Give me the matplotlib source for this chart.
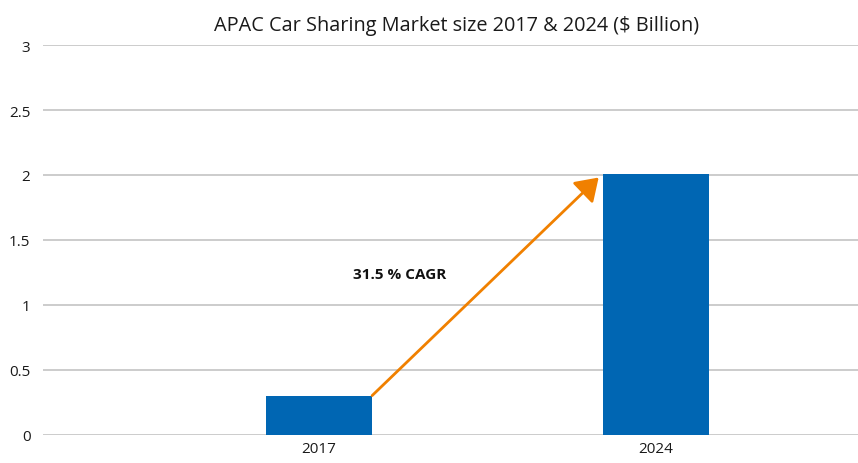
import matplotlib
matplotlib.use("Agg")
import matplotlib.pyplot as plt

years = ["2017", "2024"]
market_size = [0.30, 2.01]
cagr_label = "31.5 % CAGR"
y_ticks = [0, 0.5, 1, 1.5, 2, 2.5, 3]
y_tick_labels = ["0", "0.5", "1", "1.5", "2", "2.5", "3"]

plt.rcParams["font.family"] = ["Open Sans", "DejaVu Sans"]

fig = plt.figure(figsize=(8.58, 4.64), dpi=100)
ax = fig.add_axes([0.050, 0.0614, 0.950, 0.8392])

bar_w = 0.315
pos = list(range(len(years)))
ax.bar(pos, market_size, width=bar_w, color="#0066b3", zorder=3)

ax.set_xlim(-0.82, 1.60)
ax.set_ylim(0, 3)
ax.set_yticks(y_ticks)
ax.set_yticklabels(y_tick_labels)
ax.set_xticks(pos)
ax.set_xticklabels(years)
ax.tick_params(axis="both", length=0, labelsize=11, colors="#1a1a1a")
ax.tick_params(axis="y", pad=9)
ax.tick_params(axis="x", pad=5)
ax.grid(axis="y", color="#cccccc", linewidth=1.4, zorder=0)
for s in ax.spines.values():
    s.set_visible(False)

# CAGR arrow from top of first bar towards second bar
ax.annotate("", xy=(0.83, 1.98), xytext=(bar_w / 2, market_size[0]),
            arrowprops=dict(arrowstyle="-|>,head_length=0.45,head_width=0.3",
                            color="#f08000", lw=2.0,
                            mutation_scale=30, shrinkA=0, shrinkB=0),
            zorder=4)
ax.text(0.238, 1.237, cagr_label, ha="center", va="center",
        fontsize=11, fontweight="bold", color="#111111")

fig.text(0.532, 0.944, "APAC Car Sharing Market size 2017 & 2024 ($ Billion)",
         ha="center", va="center", fontsize=14.3, color="#1a1a1a")

fig.savefig("out.png", dpi=100)
